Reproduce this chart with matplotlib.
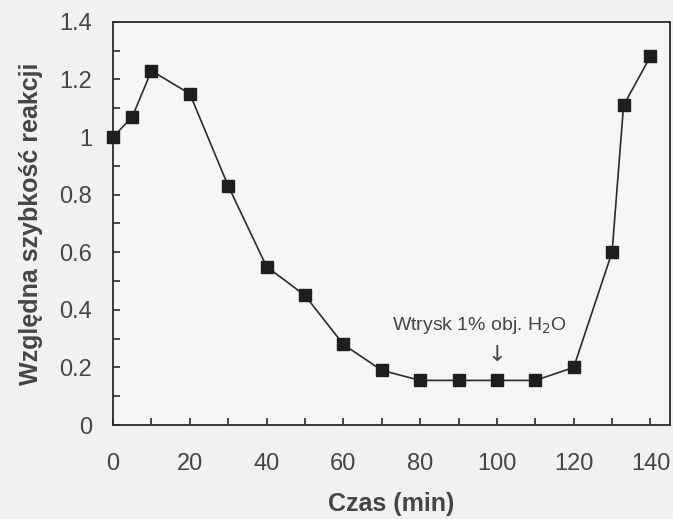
import numpy as np
import matplotlib.pyplot as plt
from matplotlib.ticker import MultipleLocator, FuncFormatter

time_min = [0, 5, 10, 20, 30, 40, 50, 60, 70, 80, 90, 100, 110, 120, 130, 133, 140]
rel_rate = [1.0, 1.07, 1.23, 1.15, 0.83, 0.55, 0.45, 0.28, 0.19, 0.155, 0.155, 0.155, 0.155, 0.20, 0.60, 1.11, 1.28]

plt.rcParams['font.family'] = ['Liberation Sans', 'DejaVu Sans']
ink = '#2b2b2b'
txt = '#454545'

fig = plt.figure(figsize=(6.73, 5.19), dpi=100, facecolor='#f1f1f1')
ax = fig.add_axes([0.168, 0.181, 0.827, 0.777])
ax.set_facecolor('#f6f6f6')

ax.plot(time_min, rel_rate, color=ink, lw=1.2, marker='s', ms=8.5,
        markerfacecolor='#1e1e1e', markeredgecolor='#1e1e1e', clip_on=False, zorder=3)

ax.set_xlim(0, 145)
ax.set_ylim(0, 1.4)
ax.xaxis.set_major_locator(MultipleLocator(20))
ax.xaxis.set_minor_locator(MultipleLocator(10))
ax.yaxis.set_major_locator(MultipleLocator(0.2))
ax.yaxis.set_minor_locator(MultipleLocator(0.1))
ax.yaxis.set_major_formatter(FuncFormatter(lambda v, p: f'{v:g}'))

ax.tick_params(which='both', direction='in', length=5, width=1.2, color=ink,
               labelsize=17, labelcolor=txt, top=False, right=False)
ax.tick_params(axis='x', pad=20)
ax.tick_params(axis='y', pad=15)
for s in ax.spines.values():
    s.set_color(ink)
    s.set_linewidth(1.3)

ax.set_xlabel('Czas (min)', fontsize=18, fontweight='bold', color=txt, labelpad=12)
ax.set_ylabel('Względna szybkość reakcji', fontsize=18, fontweight='bold', color=txt, labelpad=12)

ax.text(95.5, 0.345, 'Wtrysk 1% obj. H$_2$O', fontsize=14, color=txt, ha='center', va='center')
ax.text(100, 0.245, '↓', fontsize=16, color=txt, ha='center', va='center',
        family=['DejaVu Sans'])

fig.savefig('out.png', dpi=100, facecolor=fig.get_facecolor())
